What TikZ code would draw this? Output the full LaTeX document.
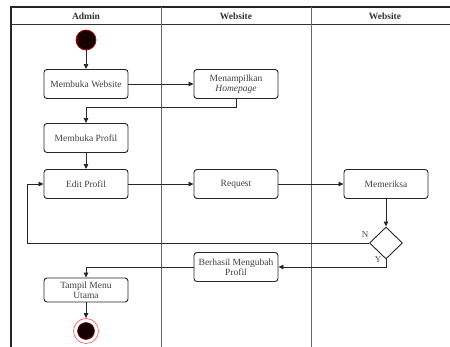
\documentclass[tikz,border=0pt]{standalone}
\usepackage{fontspec}
\setmainfont{Liberation Serif}
\usetikzlibrary{arrows.meta,shapes.geometric}
\begin{document}
\begin{tikzpicture}[x=1pt,y=-1pt,
  act/.style={draw=black!85, line width=0.9pt, rounded corners=3pt,
    minimum width=84pt, minimum height=29pt, inner sep=1pt, align=center,
    font=\fontsize{9.5}{10}\selectfont, text=black!75},
  flow/.style={draw=black!85, line width=0.8pt, -{Triangle[length=5pt,width=4.5pt]}},
  frameline/.style={draw=black!85, line width=1.4pt},
  laneline/.style={draw=black!60, line width=0.9pt},
  head/.style={font=\fontsize{9.5}{10}\selectfont\bfseries, text=black!80},
  lbl/.style={font=\fontsize{9}{10}\selectfont, text=black!70, inner sep=0pt}]
\useasboundingbox (0,0) rectangle (450,347);

% swimlane frame
\draw[frameline] (11,347) -- (11,7) -- (450,7);
\draw[draw=black!80, line width=1pt] (11,25) -- (450,25);
\draw[laneline] (161,7) -- (161,347);
\draw[laneline] (311,7) -- (311,347);
\node[head] (h1) at (86,16) {Admin};
\node[head] (h2) at (236,16) {Website};
\node[head] (h3) at (385,16) {Website};

% start node
\node[circle, minimum size=20pt, inner sep=0pt, fill=black!90!red, draw=red!70!black, line width=0.7pt] (start) at (86,40) {};

% activities
\node[act] (mw) at (86,84) {Membuka Website};
\node[act] (mh) at (236,84) {Menampilkan\\\textit{Homepage}};
\node[act] (mp) at (86,138) {Membuka Profil};
\node[act] (ep) at (86,184) {Edit Profil};
\node[act] (rq) at (236,184) {Request};
\node[act] (mm) at (386,184) {Memeriksa};
\node[diamond, draw=black!85, line width=0.9pt, minimum width=33pt, minimum height=32pt, inner sep=0pt] (dec) at (386,243) {};
\node[act] (bh) at (236,267) {Berhasil Mengubah\\Profil};
\node[act, minimum height=24pt] (tm) at (86,290) {Tampil Menu\\Utama};

% end node
\node[circle, minimum size=25pt, inner sep=0pt, fill=white, draw=red!60, line width=0.7pt] (end) at (86,331) {};
\node[circle, minimum size=17pt, inner sep=0pt, fill=black!92!red, draw=red!50!black, line width=0.5pt] (endin) at (86,331) {};

\coordinate (loop) at (27,243);

% flows
\draw[flow] (start) -- (mw);
\draw[flow] (mw) -- (mh);
\draw[flow] (mh.south) -- ++(0,8) -| (mp.north);
\draw[flow] (mp) -- (ep);
\draw[flow] (ep) -- (rq);
\draw[flow] (rq) -- (mm);
\draw[flow] (mm) -- (dec);
\draw[flow] (dec.west) -- (loop) |- (ep.west);
\draw[flow] (dec.south) |- (bh.east);
\draw[flow] (bh.west) -| (tm.north);
\draw[flow] (tm) -- (end);

% guard labels
\node[lbl] (gn) at (365,235) {N};
\node[lbl] (gy) at (378,260) {Y};
\end{tikzpicture}
\end{document}
